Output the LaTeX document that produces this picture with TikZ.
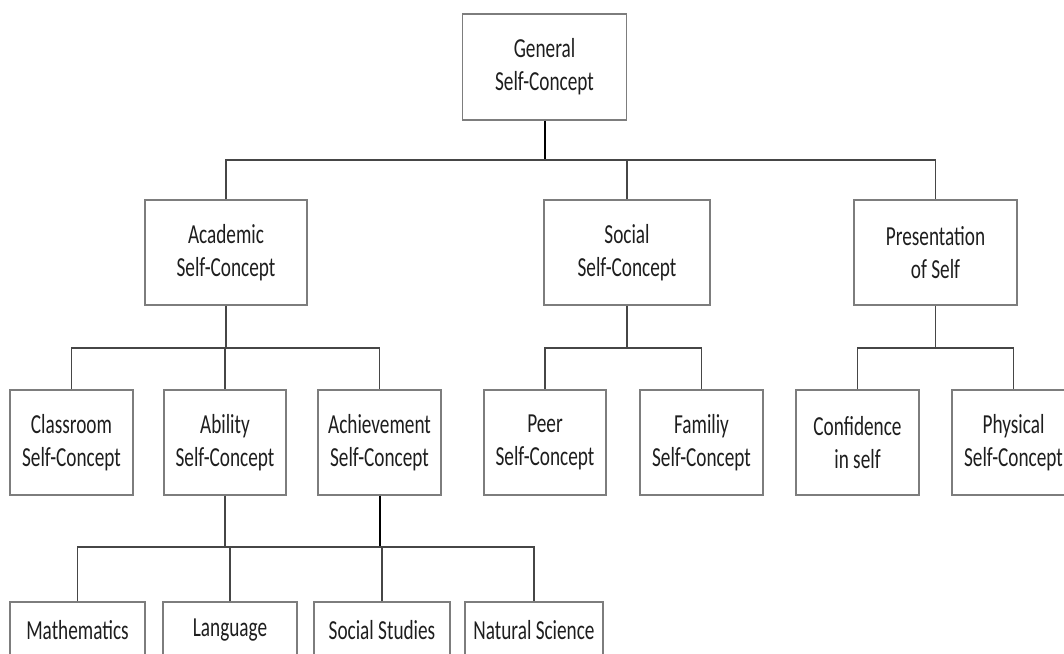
\documentclass[tikz,border=0pt]{standalone}
\usepackage{fontspec}
\setmainfont[FakeStretch=0.7]{Carlito}
\definecolor{boxgray}{RGB}{125,125,125}
\definecolor{linkgray}{RGB}{70,70,70}
\definecolor{textgray}{RGB}{30,30,30}
\usetikzlibrary{positioning}

\begin{document}
\begin{tikzpicture}[x=1pt,y=-1pt,
    concept/.style={draw=boxgray,line width=1.1pt,fill=white,align=center,inner sep=0pt,
      minimum height=105pt,font=\fontsize{27.5}{33}\selectfont\color{textgray}},
    wide/.style={concept,minimum width=164pt},
    narrow/.style={concept,minimum width=123pt},
    subject/.style={concept,minimum height=56pt},
    link/.style={draw=linkgray,line width=1.3pt},
    stem/.style={draw=black,line width=2pt}]
  \path[use as bounding box,clip] (0,0) rectangle (1064,653);
  \fill[white] (0,0) rectangle (1064,653);

  \node[wide,minimum height=106pt] (general) at (544.5,67) {General\\Self-Concept};

  \node[wide,minimum width=162pt] (academic) at (226,252.5) {Academic\\Self-Concept};
  \node[wide,minimum width=166pt] (social) at (627,252.5) {Social\\Self-Concept};
  \node[wide,minimum width=163pt] (presentation) at (935.5,252.5) {Presentation\\of Self};

  \node[narrow] (classroom) at (71.5,442.5) {Classroom\\Self-Concept};
  \node[narrow,minimum width=122pt] (ability) at (225,442.5) {Ability\\Self-Concept};
  \node[narrow] (achievement) at (379.5,442.5) {Achievement\\Self-Concept};
  \node[narrow,minimum width=122pt] (peer) at (545,442.5) {Peer\\Self-Concept};
  \node[narrow] (family) at (701.5,442.5) {Familiy\\Self-Concept};
  \node[narrow] (confidence) at (857.5,442.5) {Confidence\\in self};
  \node[narrow] (physical) at (1013.5,442.5) {Physical\\Self-Concept};

  \node[subject,minimum width=135pt] (maths) at (77.5,630) {Mathematics};
  \node[subject,minimum width=134pt] (language) at (230,630) {Language};
  \node[subject,minimum width=136pt] (studies) at (382,630) {Social Studies};
  \node[subject,minimum width=138pt] (science) at (534,630) {Natural Science};

  \coordinate (bus1) at (544.5,160);
  \coordinate (bus2) at (0,348);
  \coordinate (bus3) at (0,547);

  \draw[stem] (general) -- (bus1);
  \draw[link] (academic.north) |- (bus1) -| (presentation.north);
  \draw[link] (social) -- (social |- bus1);

  \draw[link] (academic) -- (academic |- bus2);
  \draw[link] (classroom.north) |- (achievement |- bus2) -- (achievement.north);
  \draw[link] (ability) -- (ability |- bus2);
  \draw[link] (social) -- (social |- bus2);
  \draw[link] (peer.north) |- (family |- bus2) -- (family.north);
  \draw[link] (presentation) -- (presentation |- bus2);
  \draw[link] (confidence.north) |- (physical |- bus2) -- (physical.north);

  \draw[link] (ability) -- (ability |- bus3);
  \draw[stem] (achievement) -- (achievement |- bus3);
  \draw[link] (maths.north) |- (science |- bus3) -- (science.north);
  \draw[link] (language) -- (language |- bus3);
  \draw[link] (studies) -- (studies |- bus3);
\end{tikzpicture}
\end{document}
